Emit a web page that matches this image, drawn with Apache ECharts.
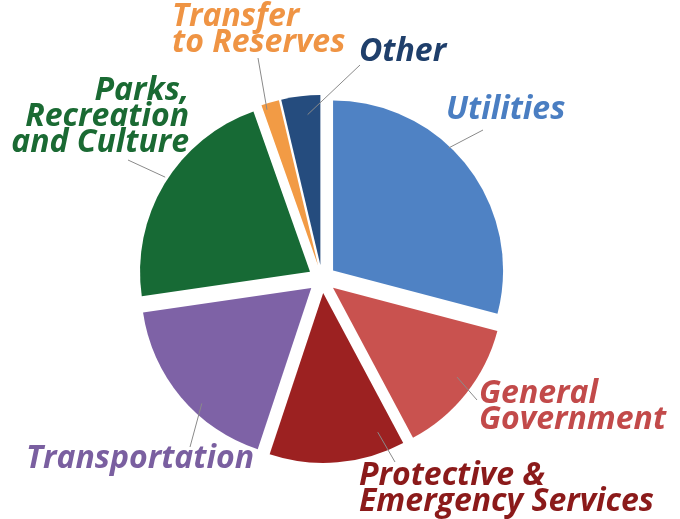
<!DOCTYPE html>
<html>
<head>
<meta charset="utf-8">
<title>Budget pie</title>
<script src="https://cdn.jsdelivr.net/npm/echarts@6/dist/echarts.min.js"></script>
<style>
	html, body { margin: 0; padding: 0; background: #fff; }
	#pie { width: 680px; height: 519px; }
</style>
</head>
<body>
<div id="pie"></div>
<script>
// 类别 / 数值 (%)，顺时针自 12 点开始
var categories = [ 'Utilities', 'General\nGovernment', 'Protective &\nEmergency Services',
		'Transportation', 'Parks,\nRecreation\nand Culture', 'Transfer\nto Reserves', 'Other' ];
var values = [ 29.1, 13.1, 12.9, 17.6, 21.9, 1.7, 3.7 ];

// 扇区颜色和文字颜色
var sliceColors = [ '#4f82c4', '#c9524f', '#9c2121', '#7e62a6', '#176a35', '#f29b45', '#254c7e' ];
var textColors = [ '#4a7ec2', '#c24a4a', '#8b1a1a', '#7a5fa0', '#1a6a33', '#ef9444', '#1f3f6b' ];

// 饼图中心和半径
var cx = 322, cy = 279, R = 170;

// 标签位置 [x, y, align]
var labelPos = [
	[ 446, 110, 'left' ],
	[ 479, 407, 'left' ],
	[ 359, 489, 'left' ],
	[ 26, 459, 'left' ],
	[ 189, 117, 'right' ],
	[ 172, 30, 'left' ],
	[ 359, 52, 'left' ]
];
// 引导线: 起点 [角度(顺时针), 距中心], 终点 [x, y]
var guideFrom = [ [ -46, 182 ], [ 36, 167 ], [ 70, 163 ], [ 134, 173 ], [ 213, 187 ], [ 252, 178 ], [ 265, 165 ] ];
var guideTo = [ [ 483, 130 ], [ 477, 400 ], [ 395, 462 ], [ 190, 447 ], [ 128, 160 ], [ 258, 58 ], [ 360, 65 ] ];

var myChart = echarts.init(document.getElementById('pie'));

// 扇区(分离)
var sliceData = [];
// 标签(不分离, 透明)
var labelData = [];
for (var i = 0; i < categories.length; i++) {
	sliceData.push({
		name : categories[i],
		value : values[i],
		selected : true,
		itemStyle : { color : sliceColors[i] }
	});
	labelData.push({
		name : categories[i],
		value : values[i],
		label : { color : textColors[i] }
	});
}

var option = {
	animation : false,
	series : [ {
		type : 'pie',
		z : 1,
		center : [ cx, cy ],
		radius : R,
		startAngle : 90,
		clockwise : true,
		silent : true,
		selectedMode : 'multiple',
		selectedOffset : 14,
		label : { show : false },
		labelLine : { show : false },
		emphasis : { disabled : true },
		data : sliceData
	}, {
		type : 'pie',
		z : 5,
		center : [ cx, cy ],
		radius : R,
		startAngle : 90,
		clockwise : true,
		silent : true,
		itemStyle : { color : 'rgba(0,0,0,0)' },
		label : {
			show : true,
			position : 'outside',
			overflow : 'none',
			fontFamily : 'Open Sans',
			fontWeight : 'bold',
			fontStyle : 'italic',
			fontSize : 32,
			lineHeight : 26,
			formatter : '{b}'
		},
		labelLine : {
			show : true,
			length2 : 0,
			lineStyle : { color : '#8a8a8a', width : 1 }
		},
		labelLayout : function(params) {
			var k = params.dataIndex;
			var p = labelPos[k];
			var a = guideFrom[k][0] * Math.PI / 180;
			var from = [ cx + guideFrom[k][1] * Math.cos(a), cy + guideFrom[k][1] * Math.sin(a) ];
			return {
				x : p[0],
				y : p[1],
				align : p[2],
				verticalAlign : 'middle',
				labelLinePoints : [ from, guideTo[k] ]
			};
		},
		emphasis : { disabled : true },
		data : labelData
	} ]
};
myChart.setOption(option);
</script>
</body>
</html>
